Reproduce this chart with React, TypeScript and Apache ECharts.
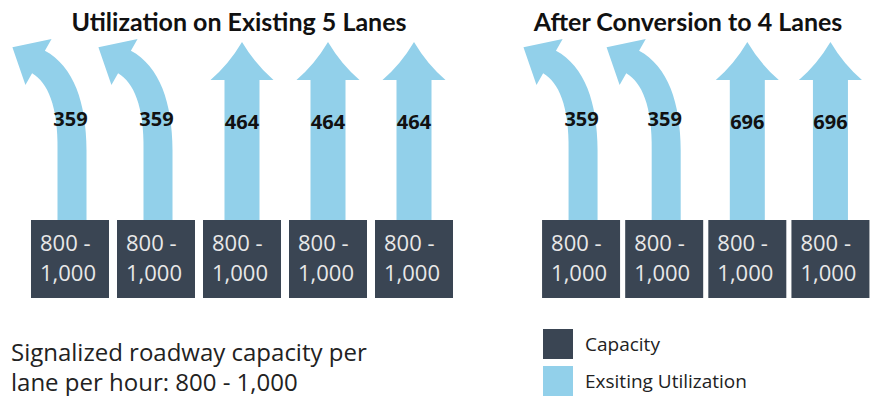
import React, { useEffect, useRef } from "react";
import * as echarts from "echarts";

// ---- data ----
const existingLanes = ["Left 1", "Left 2", "Through 1", "Through 2", "Through 3"];
const existingMovement = ["left", "left", "through", "through", "through"];
const existingUtilization = [359, 359, 464, 464, 464];

const convertedLanes = ["Left 1", "Left 2", "Through 1", "Through 2"];
const convertedMovement = ["left", "left", "through", "through"];
const convertedUtilization = [359, 359, 696, 696];

const capacityMin = 800;
const capacityMax = 1000;

const panelTitles = ["Utilization on Existing 5 Lanes", "After Conversion to 4 Lanes"];
const legendNames = ["Capacity", "Exsiting Utilization"];
const noteLines = ["Signalized roadway capacity per", "lane per hour: 800 - 1,000"];

// ---- styles ----
const BOX = "#3a4553";
const ARROW = "#92d0ea";
const BODY_FONT = "'Open Sans', sans-serif";
const TITLE_FONT = "Lato, 'Open Sans', sans-serif";

const fmt = (v: number) => v.toLocaleString("en-US");

function renderBox(_params: any, api: any) {
  const idx = api.value(0);
  const [cx, by] = api.coord([idx, 0]);
  const w = 78;
  const h = 78;
  const left = cx - w / 2;
  const top = by - h;
  return {
    type: "group",
    children: [
      { type: "rect", shape: { x: left, y: top, width: w, height: h }, style: { fill: BOX } },
      {
        type: "text",
        x: left + 9,
        y: top + 22,
        style: {
          text: `${fmt(api.value(1))} -`,
          fill: "#e8e8e8",
          font: `22px ${BODY_FONT}`,
          lineHeight: 26,
          textAlign: "left",
          textVerticalAlign: "middle",
        },
      },
      {
        type: "text",
        x: left + 9,
        y: top + 52,
        style: {
          text: fmt(api.value(2)),
          fill: "#e8e8e8",
          font: `22px ${BODY_FONT}`,
          lineHeight: 26,
          textAlign: "left",
          textVerticalAlign: "middle",
        },
      },
    ],
  };
}

function straightArrowPath(cx: number, top: number) {
  const sw = 17.5;
  const hw = 31.5;
  const headBase = top - 140;
  const tip = top - 178;
  return [
    `M${cx - sw} ${top}`,
    `L${cx - sw} ${headBase}`,
    `L${cx - hw} ${headBase}`,
    `Q${cx - 13} ${headBase - 16} ${cx} ${tip}`,
    `Q${cx + 13} ${headBase - 16} ${cx + hw} ${headBase}`,
    `L${cx + sw} ${headBase}`,
    `L${cx + sw} ${top}`,
    "Z",
  ].join(" ");
}

function curvedArrowPath(cx: number, top: number) {
  const x0 = cx + 2;
  const S = [x0, top];
  const A = [x0, top - 70];
  const C = [x0, top - 139];
  const B = [x0 - 33.5, top - 158];
  const hwBottom = 14.5;
  const hwTop = 13;
  const headHalf = 26.5;
  const headLen = 30;
  const right: number[][] = [];
  const left: number[][] = [];
  right.push([S[0] + hwBottom, S[1]]);
  left.push([S[0] - hwBottom, S[1]]);
  const N = 16;
  for (let i = 0; i <= N; i++) {
    const t = i / N;
    const px = (1 - t) * (1 - t) * A[0] + 2 * (1 - t) * t * C[0] + t * t * B[0];
    const py = (1 - t) * (1 - t) * A[1] + 2 * (1 - t) * t * C[1] + t * t * B[1];
    let dx = 2 * (1 - t) * (C[0] - A[0]) + 2 * t * (B[0] - C[0]);
    let dy = 2 * (1 - t) * (C[1] - A[1]) + 2 * t * (B[1] - C[1]);
    const len = Math.hypot(dx, dy) || 1;
    dx /= len;
    dy /= len;
    const nx = -dy;
    const ny = dx;
    const hw = hwBottom + (hwTop - hwBottom) * t;
    right.push([px + nx * hw, py + ny * hw]);
    left.push([px - nx * hw, py - ny * hw]);
  }
  let dx = B[0] - C[0];
  let dy = B[1] - C[1];
  const l = Math.hypot(dx, dy);
  dx /= l;
  dy /= l;
  const nx = -dy;
  const ny = dx;
  const wingR = [B[0] + nx * headHalf, B[1] + ny * headHalf];
  const wingL = [B[0] - nx * headHalf, B[1] - ny * headHalf];
  const tipP = [B[0] + dx * headLen, B[1] + dy * headLen];
  const pts = [...right, wingR, tipP, wingL, ...left.reverse()];
  return "M" + pts.map((p) => `${p[0].toFixed(2)} ${p[1].toFixed(2)}`).join(" L") + " Z";
}

function renderArrow(_params: any, api: any) {
  const idx = api.value(0);
  const value = api.value(1);
  const isLeft = api.value(2) === 1;
  const [cx, by] = api.coord([idx, 0]);
  const top = by - 78;
  const pathData = isLeft ? curvedArrowPath(cx, top) : straightArrowPath(cx, top);
  return {
    type: "group",
    children: [
      { type: "path", shape: { pathData }, style: { fill: ARROW } },
      {
        type: "text",
        x: isLeft ? cx + 0.5 : cx,
        y: isLeft ? top - 102 : top - 99,
        style: {
          text: String(value),
          fill: "#111111",
          font: `bold 20px ${BODY_FONT}`,
          textAlign: "center",
          textVerticalAlign: "middle",
        },
      },
    ],
  };
}

const legendBase = {
  orient: "vertical",
  left: 543,
  padding: 0,
  itemWidth: 30,
  itemHeight: 30,
  icon: "rect",
  selectedMode: false,
  textStyle: {
    fontSize: 19,
    lineHeight: 20,
    color: "#222222",
    fontFamily: BODY_FONT,
    padding: [0, 0, 0, 7],
  },
};

export default function App() {
  const ref = useRef<HTMLDivElement>(null);
  useEffect(() => {
    if (!ref.current) return;
    const chart = echarts.init(ref.current, undefined, { renderer: "svg" });
    const makeData = (lanes: string[]) => lanes.map((_, i) => [i, capacityMin, capacityMax]);
    const makeArrows = (vals: number[], mv: string[]) =>
      vals.map((v, i) => [i, v, mv[i] === "left" ? 1 : 0]);
    chart.setOption({
      animation: false,
      backgroundColor: "#ffffff",
      grid: [
        { left: 27, top: 30, width: 430, bottom: 98 },
        { left: 539.5, top: 30, width: 345, bottom: 98 },
      ],
      xAxis: [
        { type: "category", gridIndex: 0, data: existingLanes, show: false },
        { type: "category", gridIndex: 1, data: convertedLanes, show: false },
      ],
      yAxis: [
        { type: "value", gridIndex: 0, min: 0, max: capacityMax, show: false },
        { type: "value", gridIndex: 1, min: 0, max: capacityMax, show: false },
      ],
      legend: [
        { ...legendBase, top: 329, data: [legendNames[0]] },
        { ...legendBase, top: 366, data: [legendNames[1]] },
      ],
      graphic: [
        {
          type: "text",
          x: 239,
          y: 21,
          style: {
            text: panelTitles[0],
            font: `bold 25px ${TITLE_FONT}`,
            fill: "#111111",
            textAlign: "center",
            textVerticalAlign: "middle",
          },
        },
        {
          type: "text",
          x: 688,
          y: 21,
          style: {
            text: panelTitles[1],
            font: `bold 25px ${TITLE_FONT}`,
            fill: "#111111",
            textAlign: "center",
            textVerticalAlign: "middle",
          },
        },
        {
          type: "text",
          x: 11,
          y: 351,
          style: {
            text: noteLines[0],
            font: `24px ${BODY_FONT}`,
            lineHeight: 26,
            fill: "#222222",
            textAlign: "left",
            textVerticalAlign: "middle",
          },
        },
        {
          type: "text",
          x: 11,
          y: 381,
          style: {
            text: noteLines[1],
            font: `24px ${BODY_FONT}`,
            lineHeight: 26,
            fill: "#222222",
            textAlign: "left",
            textVerticalAlign: "middle",
          },
        },
      ],
      series: [
        {
          type: "custom",
          name: legendNames[1],
          xAxisIndex: 0,
          yAxisIndex: 0,
          itemStyle: { color: ARROW },
          data: makeArrows(existingUtilization, existingMovement),
          renderItem: renderArrow,
          silent: true,
        },
        {
          type: "custom",
          name: legendNames[0],
          xAxisIndex: 0,
          yAxisIndex: 0,
          itemStyle: { color: BOX },
          data: makeData(existingLanes),
          renderItem: renderBox,
          silent: true,
        },
        {
          type: "custom",
          name: legendNames[1],
          xAxisIndex: 1,
          yAxisIndex: 1,
          itemStyle: { color: ARROW },
          data: makeArrows(convertedUtilization, convertedMovement),
          renderItem: renderArrow,
          silent: true,
        },
        {
          type: "custom",
          name: legendNames[0],
          xAxisIndex: 1,
          yAxisIndex: 1,
          itemStyle: { color: BOX },
          data: makeData(convertedLanes),
          renderItem: renderBox,
          silent: true,
        },
      ],
    });
    return () => chart.dispose();
  }, []);
  return (
    <div
      ref={ref}
      style={{ position: "fixed", left: 0, top: 0, width: 872, height: 396 }}
    />
  );
}
